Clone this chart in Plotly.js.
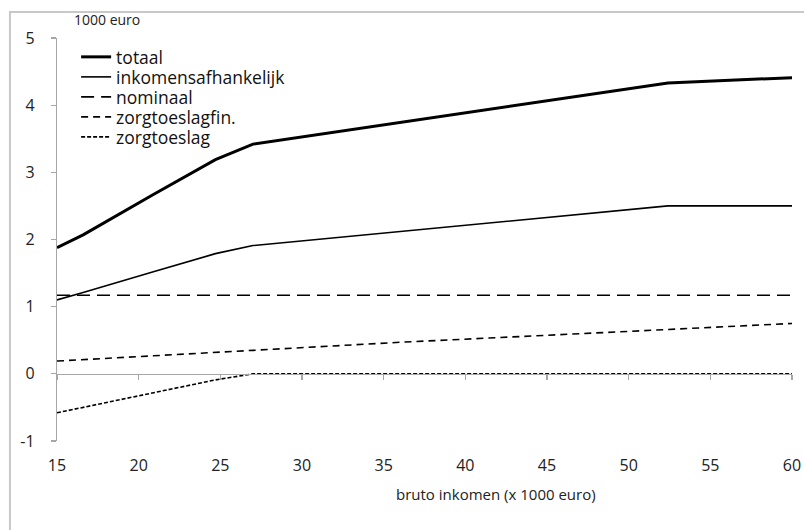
<!DOCTYPE html>
<html>
<head>
<meta charset="utf-8">
<script src="https://cdn.plot.ly/plotly-3.0.1.min.js"></script>
<style>
  html, body { margin: 0; padding: 0; background: #ffffff; }
  #chart { width: 804px; height: 530px; }
</style>
</head>
<body>
<div id="chart"></div>
<script>
// Income points (x 1000 euro)
var inkomen = [15, 16.6, 20.9, 24.7, 27, 36, 43.3, 52.4, 60];

// Series values (1000 euro)
var totaal              = [1.88, 2.07, 2.67, 3.19, 3.42, 3.74, 4.01, 4.33, 4.41];
var inkomensafhankelijk = [1.10, 1.21, 1.52, 1.79, 1.91, 2.12, 2.29, 2.50, 2.50];
var nominaal            = [1.17, 1.17, 1.17, 1.17, 1.17, 1.17, 1.17, 1.17, 1.17];
var zorgtoeslagfin      = [0.19, 0.21, 0.27, 0.32, 0.35, 0.47, 0.55, 0.66, 0.75];
var zorgtoeslag         = [-0.58, -0.50, -0.29, -0.09, 0, 0, 0, 0, 0];

var seriesNames = ['totaal', 'inkomensafhankelijk', 'nominaal', 'zorgtoeslagfin.', 'zorgtoeslag'];

// Tick labels
var xTicks = [15, 20, 25, 30, 35, 40, 45, 50, 55, 60];
var xTickText = ['15', '20', '25', '30', '35', '40', '45', '50', '55', '60'];
var yTicks = [-1, 0, 1, 2, 3, 4, 5];
var yTickText = ['-1', '0', '1', '2', '3', '4', '5'];

var yUnit = '1000 euro';
var xTitle = 'bruto inkomen (x 1000 euro)';

var FONT = '"Open Sans", "Noto Sans", sans-serif';
var AXIS = '#a6a6a6';

var legendIds = ['legend', 'legend2', 'legend3', 'legend4', 'legend5'];
var legendRowY = [0.9529, 0.9032, 0.8536, 0.8040, 0.7543];

var traces = [
  { x: inkomen, y: totaal, name: seriesNames[0], mode: 'lines', legend: legendIds[0],
    line: { color: '#000', width: 3 } },
  { x: inkomen, y: inkomensafhankelijk, name: seriesNames[1], mode: 'lines', legend: legendIds[1],
    line: { color: '#000', width: 1.6 } },
  { x: inkomen, y: nominaal, name: seriesNames[2], mode: 'lines', legend: legendIds[2],
    line: { color: '#000', width: 1.6, dash: '13px,7px' } },
  { x: inkomen, y: zorgtoeslagfin, name: seriesNames[3], mode: 'lines', legend: legendIds[3],
    line: { color: '#000', width: 1.6, dash: '7px,5px' } },
  { x: inkomen, y: zorgtoeslag, name: seriesNames[4], mode: 'lines', xaxis: 'x2', legend: legendIds[4],
    line: { color: '#000', width: 1.6, dash: '4px,2px' } }
];

var layout = {
  width: 804, height: 530,
  margin: { l: 57, r: 12, t: 38, b: 89 },
  paper_bgcolor: '#ffffff', plot_bgcolor: 'rgba(0,0,0,0)',
  font: { family: FONT, color: '#222', size: 16 },
  showlegend: true,
  xaxis: {
    range: [15, 60], tickvals: xTicks, ticktext: xTickText,
    showline: false, ticks: '', zeroline: false, showgrid: false,
    ticklabelstandoff: 13, tickfont: { size: 16, color: '#222' }, fixedrange: true
  },
  xaxis2: {
    range: [15, 60], overlaying: 'x', anchor: 'free', position: 1 / 6,
    tickvals: xTicks, showticklabels: false, showline: true, linecolor: AXIS, linewidth: 1.2,
    ticks: 'outside', ticklen: 5, tickcolor: AXIS, tickwidth: 1.2,
    zeroline: false, showgrid: false, fixedrange: true
  },
  yaxis: {
    range: [-1, 5], tickvals: yTicks, ticktext: yTickText,
    showline: true, linecolor: AXIS, linewidth: 1.2,
    ticks: 'outside', ticklen: 5, tickcolor: AXIS, tickwidth: 1.2,
    zeroline: false, showgrid: false, ticklabelstandoff: 13,
    tickfont: { size: 16, color: '#222' }, fixedrange: true
  },
  annotations: [
    { text: yUnit, xref: 'paper', yref: 'paper', x: 0.020, y: 1, yshift: 7,
      xanchor: 'left', yanchor: 'bottom', showarrow: false,
      font: { family: FONT, size: 14, color: '#222' } },
    { text: xTitle, xref: 'paper', yref: 'paper', x: 0.597, y: 0, yshift: -53,
      xanchor: 'center', yanchor: 'middle', showarrow: false,
      font: { family: FONT, size: 15, color: '#222' } }
  ],
  shapes: [
    { type: 'path', xref: 'paper', yref: 'paper',
      path: 'M -0.064,-0.3 L -0.064,1.0645 L 1.1,1.0645',
      line: { color: '#c8c8c8', width: 2 } }
  ]
};

legendIds.forEach(function (id, i) {
  layout[id] = {
    x: 0.026, y: legendRowY[i], xanchor: 'left', yanchor: 'middle',
    bgcolor: 'rgba(0,0,0,0)', borderwidth: 0,
    font: { family: FONT, size: 17.5, color: '#111' },
    itemwidth: 30
  };
});

Plotly.newPlot('chart', traces, layout, { displayModeBar: false, staticPlot: true });
</script>
</body>
</html>
